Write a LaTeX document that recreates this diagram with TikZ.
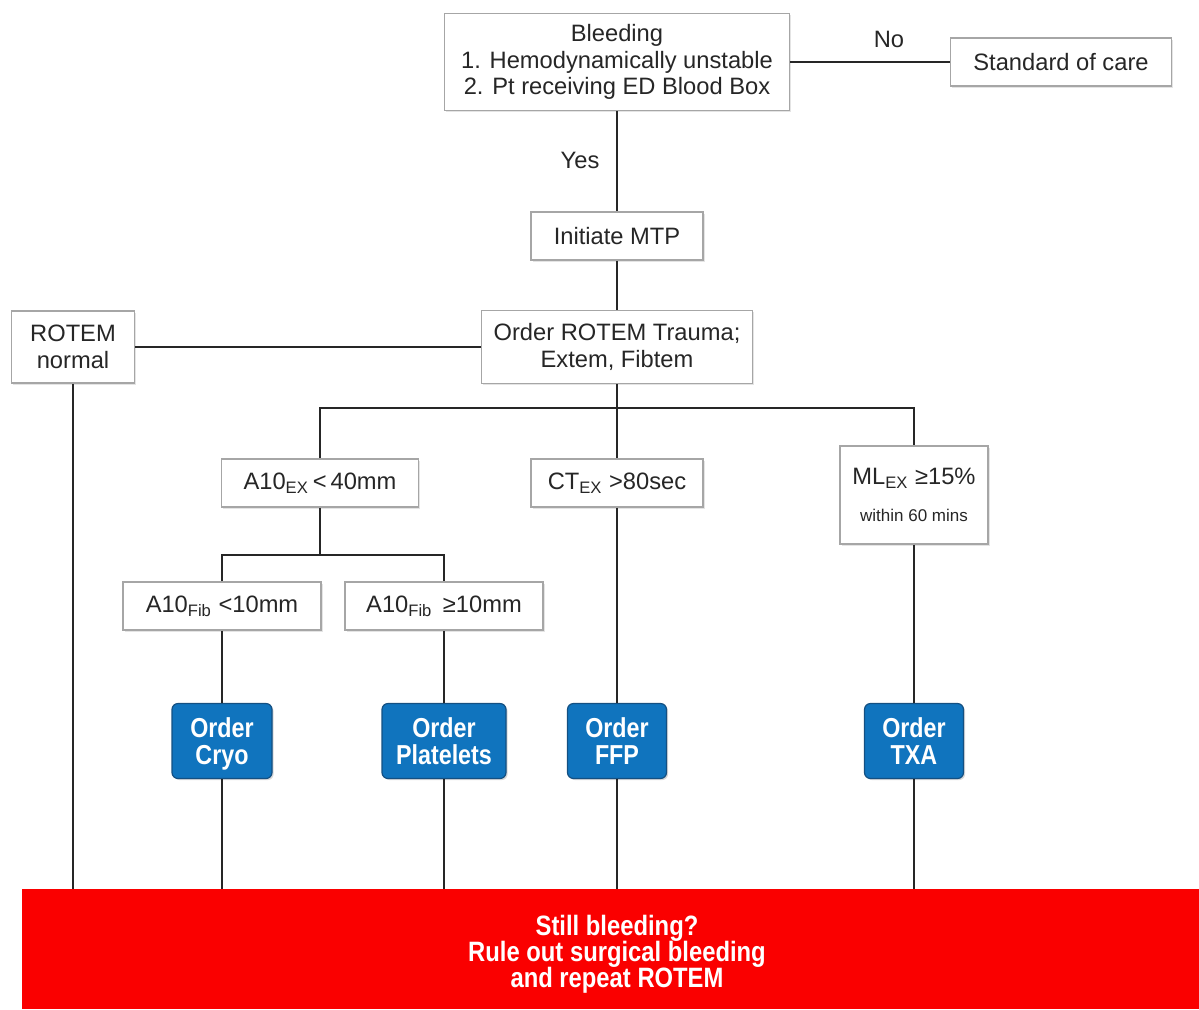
\documentclass[tikz,border=0pt]{standalone}
\usepackage{fontspec}
\setmainfont{Liberation Sans}
\newfontfamily\narrowfont[FakeStretch=0.85]{Liberation Sans}
\usetikzlibrary{shadows}
\definecolor{boxblue}{RGB}{16,116,190}
\definecolor{boxblueedge}{RGB}{20,80,130}
\definecolor{alertred}{RGB}{250,0,0}
\newcommand{\nodepth}[1]{\raisebox{0pt}[\height][0pt]{#1}}
\newcommand{\tightlines}{\setlength{\lineskiplimit}{-10pt}}
\begin{document}
\begin{tikzpicture}[x=0.5pt,y=-0.5pt,
  every node/.style={font=\fontsize{11.85}{13.25}\selectfont, text=black!85},
  gbox/.style={draw=gray!70, line width=0.8pt, fill=white, inner sep=0pt, align=center,
    drop shadow={shadow xshift=0.8pt, shadow yshift=-0.8pt, fill=gray!35, opacity=0.6}},
  bbox/.style={draw=boxblueedge, line width=0.6pt, fill=boxblue, rounded corners=3pt, inner sep=0pt,
    align=center, minimum height=37.5pt, text=white,
    font=\narrowfont\bfseries\fontsize{13.7}{13.5}\selectfont,
    drop shadow={shadow xshift=0.8pt, shadow yshift=-0.8pt, fill=gray!50, opacity=0.6}},
  conn/.style={draw=black!85, line width=0.9pt},
  lbl/.style={inner sep=0pt}
]
\useasboundingbox (0,0) rectangle (1199,1009);

% red final box
\node[fill=alertred, draw=none, minimum width=588.5pt, minimum height=60pt, inner sep=0pt] (red) at (610.5,949) {};
\node[text=white, align=center, inner sep=0pt, font={\narrowfont\bfseries\fontsize{14}{13}\selectfont\tightlines}] (redtext) at (617,954)
  {Still bleeding?\\Rule out surgical bleeding\\and repeat ROTEM};

% gray boxes
\node[gbox, minimum width=172.5pt, minimum height=48.5pt] (bleed) at (617,62)
  {Bleeding\\1. Hemodynamically unstable\\2. Pt receiving ED Blood Box};
\node[gbox, minimum width=110.5pt, minimum height=24pt] (soc) at (1061,62) {Standard of care};
\node[gbox, minimum width=86pt, minimum height=24pt] (mtp) at (617,236) {Initiate MTP};
\node[gbox, minimum width=135.5pt, minimum height=36.5pt] (rotem) at (617,347) {Order ROTEM Trauma;\\Extem, Fibtem};
\node[gbox, minimum width=61.5pt, minimum height=36pt] (rnorm) at (73,347) {ROTEM\\normal};
\node[gbox, minimum width=98.5pt, minimum height=24pt] (a10) at (320,483) {A10\textsubscript{EX}\,<\,40mm};
\node[gbox, minimum width=86pt, minimum height=24pt] (ct) at (617,483) {CT\textsubscript{EX} >80sec};
\node[gbox, minimum width=74pt, minimum height=49pt] (ml) at (914,495)
  {ML\textsubscript{EX} ≥15\%\\[5pt]{\fontsize{8.5}{9}\selectfont within 60 mins}};
\node[gbox, minimum width=99pt, minimum height=24pt] (fiblo) at (222,606) {A10\textsubscript{Fib} <10mm};
\node[gbox, minimum width=99pt, minimum height=24pt] (fibhi) at (444,606) {A10\textsubscript{Fib}\, ≥10mm};

% blue boxes
\node[bbox, minimum width=50pt] (cryo) at (222,741) {Order\\\nodepth{Cryo}};
\node[bbox, minimum width=62pt] (plt) at (444,741) {Order\\Platelets};
\node[bbox, minimum width=49.5pt] (ffp) at (617,741) {Order\\FFP};
\node[bbox, minimum width=49.5pt] (txa) at (914,741) {Order\\TXA};

% labels
\node[lbl] (no) at (889,39) {No};
\node[lbl] (yes) at (580,160) {Yes};

% junctions
\coordinate (j1) at (617,408);
\coordinate (j2) at (320,555);

% connectors
\draw[conn] (bleed.east) -- (soc.west);
\draw[conn] (bleed.south) -- (mtp.north);
\draw[conn] (mtp.south) -- (rotem.north);
\draw[conn] (rnorm.east) -- (rotem.west);
\draw[conn] (rnorm.south) -- (rnorm.south |- red.north);
\draw[conn] (rotem.south) -- (ct.north);
\draw[conn] (a10.north) |- (j1) -| (ml.north);
\draw[conn] (a10.south) -- (j2);
\draw[conn] (fiblo.north) |- (j2) -| (fibhi.north);
\draw[conn] (fiblo.south) -- (cryo.north);
\draw[conn] (fibhi.south) -- (plt.north);
\draw[conn] (ct.south) -- (ffp.north);
\draw[conn] (ml.south) -- (txa.north);
\draw[conn] (cryo.south) -- (cryo.south |- red.north);
\draw[conn] (plt.south) -- (plt.south |- red.north);
\draw[conn] (ffp.south) -- (ffp.south |- red.north);
\draw[conn] (txa.south) -- (txa.south |- red.north);
\end{tikzpicture}
\end{document}
